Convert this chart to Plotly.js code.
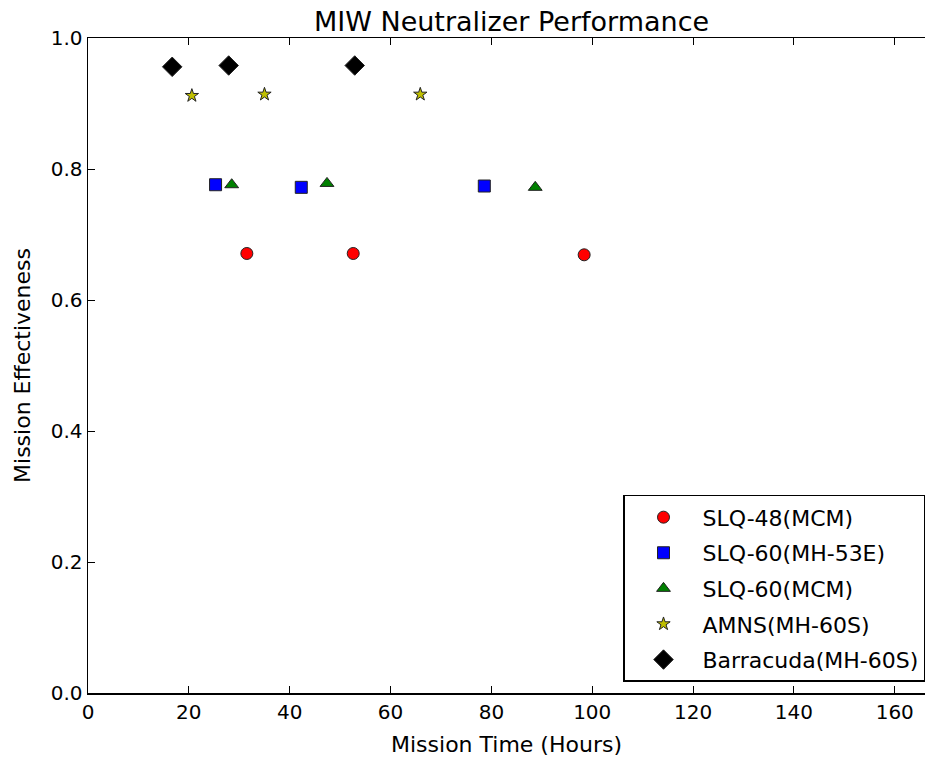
<!DOCTYPE html>
<html>
<head>
<meta charset="utf-8">
<script src="https://cdn.plot.ly/plotly-3.0.1.min.js"></script>
<style>html,body{margin:0;padding:0;background:#fff;}#chart{width:925px;height:761px;}</style>
</head>
<body>
<div id="chart"></div>
<script>
const seriesNames = ["SLQ-48(MCM)", "SLQ-60(MH-53E)", "SLQ-60(MCM)", "AMNS(MH-60S)", "Barracuda(MH-60S)"];
const slq48Time = [31.5, 52.6, 98.4];
const slq48Eff = [0.671, 0.671, 0.669];
const slq60HeloTime = [25.3, 42.3, 78.6];
const slq60HeloEff = [0.776, 0.772, 0.774];
const slq60McmTime = [28.5, 47.4, 88.7];
const slq60McmEff = [0.776, 0.778, 0.772];
const amnsTime = [20.6, 35.0, 65.9];
const amnsEff = [0.912, 0.914, 0.914];
const barracudaTime = [16.7, 27.9, 52.9];
const barracudaEff = [0.956, 0.958, 0.958];
const xTicks = [0, 20, 40, 60, 80, 100, 120, 140, 160];
const yTicks = [0.0, 0.2, 0.4, 0.6, 0.8, 1.0];

const FONT = "DejaVu Sans, sans-serif";
const edge = {color: "#222", width: 1};
const traces = [
  {x: slq48Time, y: slq48Eff, name: seriesNames[0], legendgroup: "g0", mode: "markers", type: "scatter",
   marker: {symbol: "circle", size: 12, color: "#ff0000", line: edge}},
  {x: slq60HeloTime, y: slq60HeloEff, name: seriesNames[1], legendgroup: "g1", mode: "markers", type: "scatter",
   marker: {symbol: "square", size: 12, color: "#0000ff", line: edge}},
  {x: slq60McmTime, y: slq60McmEff, name: seriesNames[2], legendgroup: "g2", mode: "markers", type: "scatter",
   marker: {symbol: "triangle-up", size: 12, color: "#008000", line: edge}},
  {x: amnsTime, y: amnsEff, name: seriesNames[3], legendgroup: "g3", mode: "markers", type: "scatter",
   marker: {symbol: "star", size: 10, color: "#bfbf00", line: edge}},
  {x: barracudaTime, y: barracudaEff, name: seriesNames[4], legendgroup: "g4", mode: "markers", type: "scatter",
   marker: {symbol: "diamond", size: 15, color: "#000000", line: edge}}
];

const axisCommon = {
  showgrid: false, zeroline: false, showline: true, linecolor: "#000", linewidth: 1.5,
  ticks: "inside", ticklen: 7, tickcolor: "#000", tickwidth: 1,
  tickfont: {family: FONT, size: 20, color: "#000"}
};

const layout = {
  width: 925, height: 761,
  margin: {l: 88, r: 0, t: 38, b: 68},
  paper_bgcolor: "#fff", plot_bgcolor: "#fff",
  title: {text: "MIW Neutralizer Performance", font: {family: FONT, size: 27, color: "#000"},
          x: 0.553, xanchor: "center", y: 0.972, yanchor: "middle"},
  xaxis: Object.assign({}, axisCommon, {
    mirror: "ticks",
    range: [0, 166], tickvals: xTicks, ticktext: xTicks.map(String),
    title: {text: "Mission Time (Hours)", font: {family: FONT, size: 22, color: "#000"}, standoff: 14}
  }),
  yaxis: Object.assign({}, axisCommon, {
    mirror: false,
    range: [0, 1], tickvals: yTicks, ticktext: yTicks.map(v => v.toFixed(1)),
    title: {text: "Mission Effectiveness", font: {family: FONT, size: 22, color: "#000"}, standoff: 14}
  }),
  showlegend: true,
  legend: {x: 1, xanchor: "right", y: 0.017, yanchor: "bottom",
           bgcolor: "#fff", bordercolor: "#000", borderwidth: 1.5, itemwidth: 68,
           font: {family: FONT, size: 22, color: "#000"}, itemsizing: "trace", tracegroupgap: 4}
};

Plotly.newPlot("chart", traces, layout, {displayModeBar: false, staticPlot: true});
</script>
</body>
</html>
